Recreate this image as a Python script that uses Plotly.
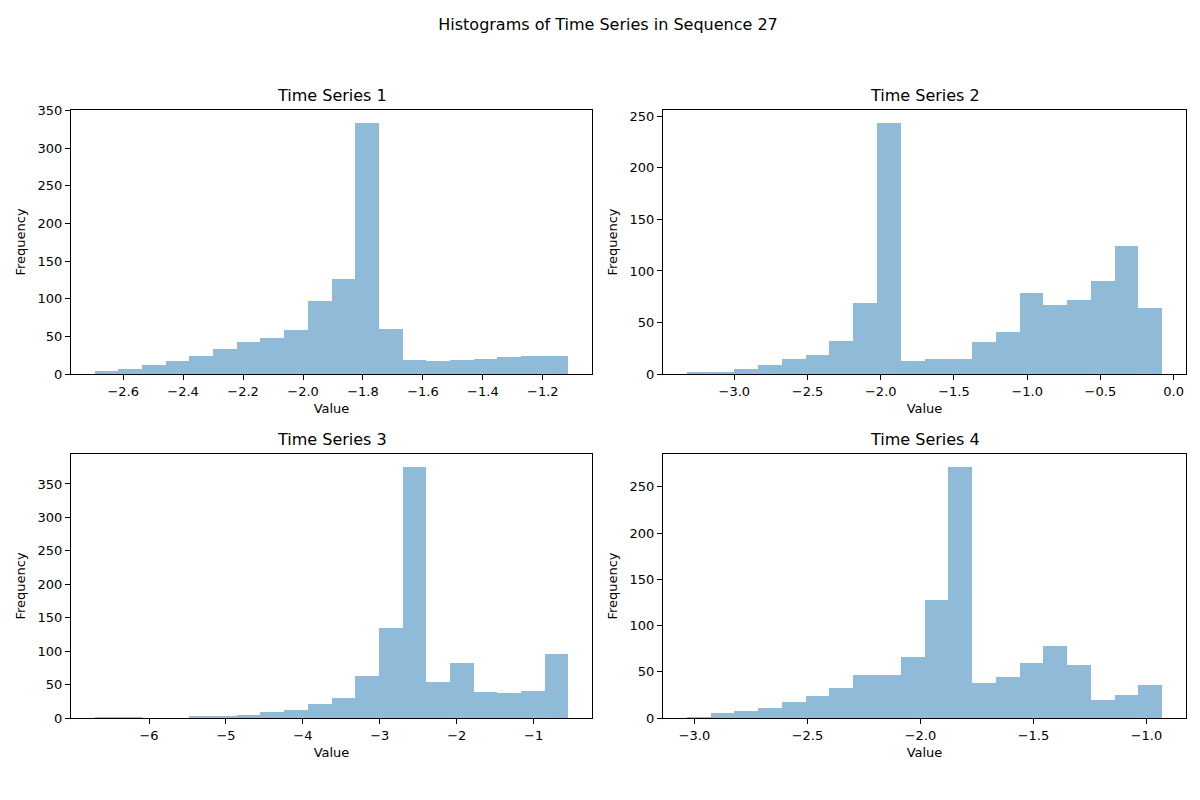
import numpy as np
import plotly.graph_objects as go

# histogram data (20 bins per series)
titles = ["Time Series 1", "Time Series 2", "Time Series 3", "Time Series 4"]

ts1_range = [-2.695, -1.115]
ts1_counts = [4, 7, 12, 17, 24, 33, 42, 48, 58, 97, 126, 334, 60, 19, 17, 19, 20, 23, 24, 24]

ts2_range = [-3.325, -0.0775]
ts2_counts = [2, 2, 5, 9, 15, 18, 32, 69, 244, 13, 15, 15, 31, 41, 79, 67, 72, 90, 124, 64]

ts3_range = [-6.707, -0.549]
ts3_counts = [1, 1, 0, 0, 3, 3, 5, 9, 12, 21, 30, 63, 134, 376, 54, 83, 39, 38, 41, 96]

ts4_range = [-3.034, -0.930]
ts4_counts = [1, 5, 8, 11, 17, 24, 33, 46, 47, 66, 128, 272, 38, 44, 59, 78, 57, 20, 25, 36]

ts1_xticks = [-2.6, -2.4, -2.2, -2.0, -1.8, -1.6, -1.4, -1.2]
ts2_xticks = [-3.0, -2.5, -2.0, -1.5, -1.0, -0.5, 0.0]
ts3_xticks = [-6, -5, -4, -3, -2, -1]
ts4_xticks = [-3.0, -2.5, -2.0, -1.5, -1.0]

series = [
    (ts1_range, ts1_counts, ts1_xticks, ".1f"),
    (ts2_range, ts2_counts, ts2_xticks, ".1f"),
    (ts3_range, ts3_counts, ts3_xticks, "d"),
    (ts4_range, ts4_counts, ts4_xticks, ".1f"),
]

FONT = "DejaVu Sans"
W, H = 1200, 800
OFF = 8  # page body margin shifts the figure by this much

# pixel boxes of the four axes in the reference (left, right, top, bottom)
boxes = [(71, 592, 110, 374), (663, 1186, 110, 374),
         (71, 592, 454, 718), (663, 1186, 454, 718)]
boxes = [(l - OFF, r - OFF, t - OFF, b - OFF) for l, r, t, b in boxes]

ML, MT = 71 - OFF, 110 - OFF
MR, MB = W - (1186 - OFF), H - (718 - OFF)
pw, ph = W - ML - MR, H - MT - MB

fig = go.Figure()
layout = {}
annotations = []

for i, ((lo, hi), counts, xticks, fmt) in enumerate(series):
    edges = np.linspace(lo, hi, len(counts) + 1)
    centers = (edges[:-1] + edges[1:]) / 2
    width = edges[1] - edges[0]
    n = "" if i == 0 else str(i + 1)
    fig.add_trace(go.Bar(
        x=centers, y=counts, width=width,
        marker=dict(color="#1f77b4", opacity=0.5, line=dict(width=0)),
        xaxis="x" + n, yaxis="y" + n, showlegend=False,
    ))

    l, r, t, b = boxes[i]
    xd = [(l - ML) / pw, (r - ML) / pw]
    yd = [(H - MB - b) / ph, (H - MB - t) / ph]
    pad = (hi - lo) * 0.05
    ymax = max(counts) * 1.05
    common = dict(showgrid=False, zeroline=False, showline=True, mirror=True,
                  linecolor="black", linewidth=1, ticks="outside", ticklen=5,
                  tickwidth=1, tickcolor="black",
                  tickfont=dict(family=FONT, size=13, color="black"))
    layout["xaxis" + n] = dict(
        domain=xd, anchor="y" + n, range=[lo - pad, hi + pad],
        tickvals=xticks, tickformat=fmt,
        title=dict(text="Value", font=dict(family=FONT, size=13, color="black"), standoff=6),
        **common)
    layout["yaxis" + n] = dict(
        domain=yd, anchor="x" + n, range=[0, ymax], dtick=50,
        title=dict(text="Frequency", font=dict(family=FONT, size=13, color="black"), standoff=9),
        **common)
    annotations.append(dict(
        text=titles[i], xref="paper", yref="paper",
        x=(xd[0] + xd[1]) / 2, y=yd[1], yshift=3,
        xanchor="center", yanchor="bottom", showarrow=False,
        font=dict(family=FONT, size=16, color="black")))

fig.update_layout(
    **layout,
    annotations=annotations,
    title=dict(text="Histograms of Time Series in Sequence 27", x=0.5, xanchor="center",
               y=1 - (24 - OFF) / H, yanchor="middle",
               font=dict(family=FONT, size=16, color="black")),
    width=W, height=H,
    margin=dict(l=ML, r=MR, t=MT, b=MB),
    plot_bgcolor="white", paper_bgcolor="white",
    bargap=0,
)

fig.write_html("out.html")
